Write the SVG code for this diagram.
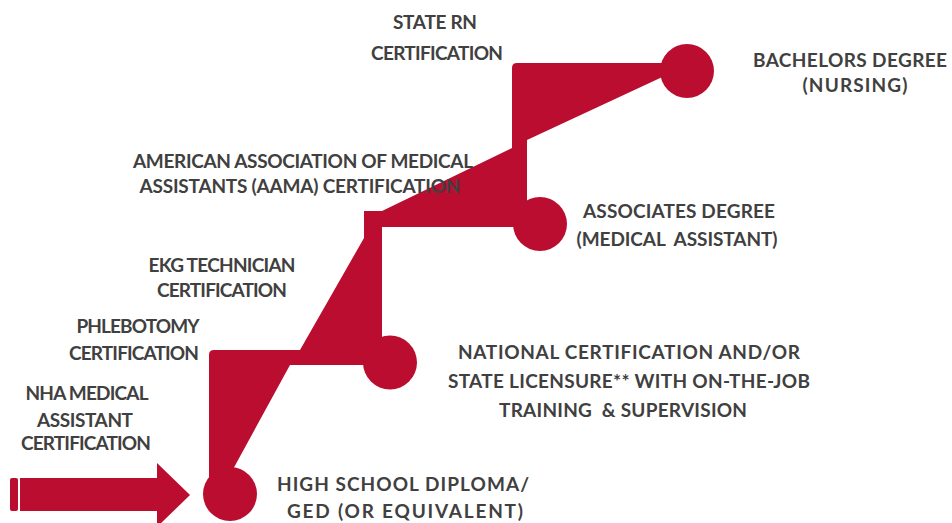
<svg xmlns="http://www.w3.org/2000/svg" width="952" height="523" viewBox="0 0 952 523">
<style>
.red{fill:#BA0D30}
text{font-family:Lato,"Open Sans","Liberation Sans",sans-serif;font-weight:700;font-size:19px;fill:#404040;text-anchor:middle}
</style>
<rect width="952" height="523" fill="#fff"/>
<g id="connectors">
<g id="arrow" class="red">
<rect x="10" y="478" width="8" height="33" rx="2"/>
<rect x="20" y="478" width="138" height="33"/>
<polygon points="157,463 190,495 157,527"/>
</g>
<path id="staircase" class="red" d="M209,485 L209,355 Q209,350 214,350 L300,350 L364,238 L364,211 L382,211 L512,148 L512,68 Q512,63 517,63 L665,63 L665,75.7 L527,140 L527,215 L520,227 L382,227 L382,345 L370,365 L290,365 L230.4,474 Z"/>
</g>
<g id="node-hs"><circle class="red" cx="230" cy="494" r="27"/>
<text x="403" y="491" textLength="252" lengthAdjust="spacing">HIGH SCHOOL DIPLOMA/</text><text x="405" y="518" textLength="236" lengthAdjust="spacing">GED (OR EQUIVALENT)</text></g>
<g id="node-national"><circle class="red" cx="390" cy="362.5" r="27"/>
<text x="629" y="359" textLength="342" lengthAdjust="spacing">NATIONAL CERTIFICATION AND/OR</text><text x="629" y="388" textLength="362" lengthAdjust="spacing">STATE LICENSURE** WITH ON-THE-JOB</text><text x="623" y="417" textLength="248" lengthAdjust="spacing" xml:space="preserve">TRAINING  &amp; SUPERVISION</text></g>
<g id="node-associates"><circle class="red" cx="540" cy="224" r="27"/>
<text x="679" y="218" textLength="192" lengthAdjust="spacing">ASSOCIATES DEGREE</text><text x="677" y="246" textLength="201" lengthAdjust="spacing" xml:space="preserve">(MEDICAL  ASSISTANT)</text></g>
<g id="node-bachelors"><circle class="red" cx="687" cy="71" r="27"/>
<text x="850" y="67" textLength="194" lengthAdjust="spacing">BACHELORS DEGREE</text><text x="855" y="92" textLength="105" lengthAdjust="spacing">(NURSING)</text></g>
<g id="label-nha"><text x="87" y="400" textLength="123" lengthAdjust="spacing">NHA MEDICAL</text><text x="85" y="427" textLength="96" lengthAdjust="spacing">ASSISTANT</text><text x="86" y="450" textLength="130" lengthAdjust="spacing">CERTIFICATION</text></g>
<g id="label-phlebotomy"><text x="138" y="333" textLength="123" lengthAdjust="spacing">PHLEBOTOMY</text><text x="134" y="360" textLength="130" lengthAdjust="spacing">CERTIFICATION</text></g>
<g id="label-ekg"><text x="222" y="272" textLength="147" lengthAdjust="spacing">EKG TECHNICIAN</text><text x="222" y="297" textLength="130" lengthAdjust="spacing">CERTIFICATION</text></g>
<g id="label-aama"><text x="303" y="168" textLength="340" lengthAdjust="spacing">AMERICAN ASSOCIATION OF MEDICAL</text><text x="300" y="193" textLength="321" lengthAdjust="spacing">ASSISTANTS (AAMA) CERTIFICATION</text></g>
<g id="label-rn"><text x="435" y="29" textLength="84" lengthAdjust="spacing">STATE RN</text><text x="437" y="60" textLength="132" lengthAdjust="spacing">CERTIFICATION</text></g>
</svg>
